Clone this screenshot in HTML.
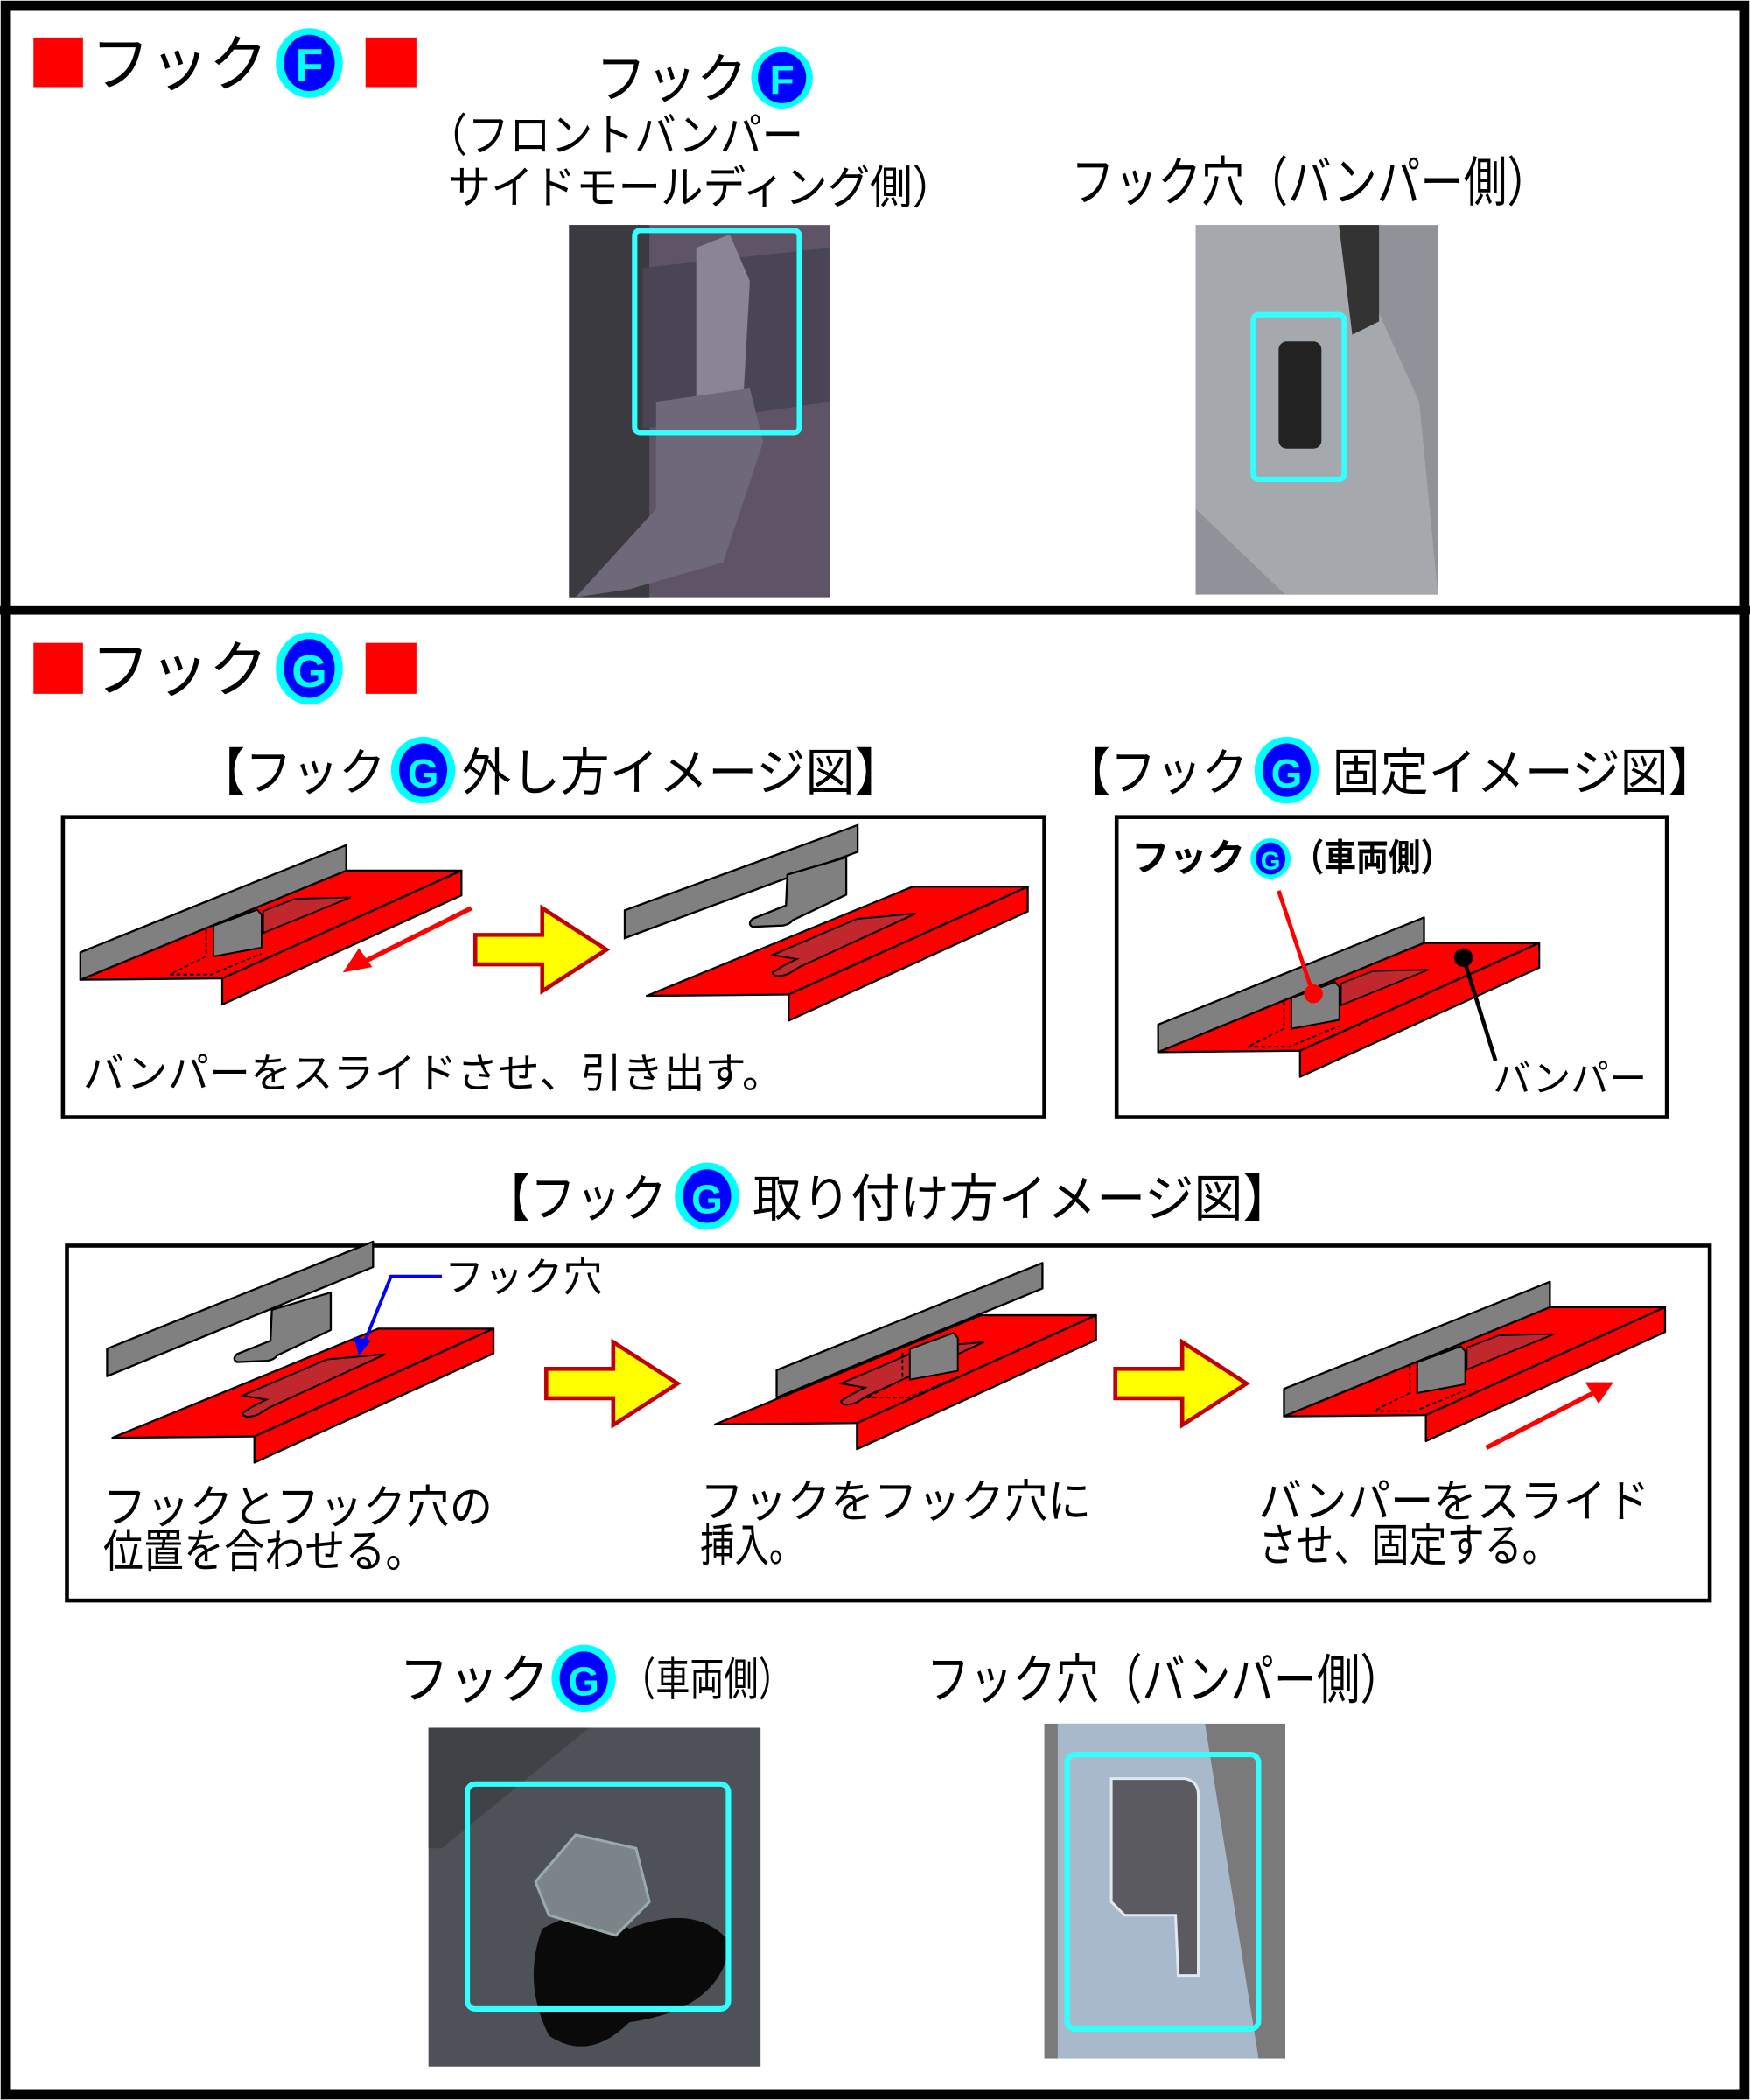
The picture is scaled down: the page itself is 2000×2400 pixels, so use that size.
<!DOCTYPE html>
<html><head><meta charset="utf-8"><style>
html,body{margin:0;padding:0;background:#fff}
svg{display:block}
text{font-family:"Liberation Sans","Noto Sans CJK JP",sans-serif}
</style></head><body>
<svg width="2000" height="2400" viewBox="0 0 1307 1568" preserveAspectRatio="none" xmlns="http://www.w3.org/2000/svg">
<defs>
<g id="wall"><polygon points="60,711 258.6,631 258.6,650 60,731.5" fill="#808080" stroke="#000" stroke-width="1.5" stroke-linejoin="round"/></g>
<g id="plate">
<polygon points="60,731.5 258.6,650 344.6,650 166,730.5" fill="#f00" stroke="#000" stroke-width="1.5" stroke-linejoin="round"/>
<polygon points="166,730.5 344.6,650 344.6,668.5 166,750" fill="#f00" stroke="#000" stroke-width="1.5" stroke-linejoin="round"/>
</g>
<g id="holeA"><polygon points="196.5,680.3 220.4,671 261.9,670 196.5,696.6" fill="#c0282d" stroke="#000" stroke-width="1.2"/></g>
<g id="hookdown">
<polygon points="159.5,691.2 192.1,679.2 195.4,683 195.4,707.5 159.5,714.1" fill="#808080" stroke="#000" stroke-width="1.3"/>
<polyline points="154,694 154,714 127,727.5 158,727.5 195.4,712" fill="none" stroke="#000" stroke-width="1.2" stroke-dasharray="3,2"/>
</g>
<g id="hookup"><path d="M588,653 L632,640 L632,668 L592,687 Q590,690 585,691 L562,692 Q558,690 562,686 L587,676 Z" fill="#808080" stroke="#000" stroke-width="1.5" stroke-linejoin="round"/></g>
<g id="slot"><path d="M577,713 L640,686 L684,682 L597,722 L589,727 Q578,731 577,726 L585,721 L595,716 Z" fill="#c0282d" stroke="#000" stroke-width="1.3"/></g>
<g id="yarrow"><polygon points="0,20 50,20 50,0 98,31 50,62 50,42 0,42" fill="#ff0" stroke="#c00000" stroke-width="3"/></g>
</defs>
<rect x="0" y="0" width="1307" height="1568" fill="#fff"/>
<rect x="4" y="4" width="1299" height="1560" fill="none" stroke="#000" stroke-width="7"/>
<rect x="0" y="452" width="1307" height="7" fill="#000"/>

<!-- Section F -->
<rect x="25" y="28" width="37" height="37" fill="#f00"/>
<text x="68" y="64" font-size="46" textLength="132" lengthAdjust="spacingAndGlyphs">フック</text>
<ellipse cx="231" cy="47" rx="25" ry="26" fill="#0ff"/><ellipse cx="231" cy="47" rx="19" ry="21" fill="#00f"/>
<text x="231" y="60" font-size="34" font-weight="bold" fill="#0ff" text-anchor="middle">F</text>
<rect x="273" y="28" width="38" height="37" fill="#f00"/>

<text x="445" y="73" font-size="40" textLength="113" lengthAdjust="spacingAndGlyphs">フック</text>
<ellipse cx="584" cy="58" rx="23" ry="23" fill="#0ff"/><ellipse cx="584" cy="58" rx="18" ry="19" fill="#00f"/>
<text x="584" y="70" font-size="30" font-weight="bold" fill="#0ff" text-anchor="middle">F</text>
<text x="318" y="113" font-size="34" textLength="282" lengthAdjust="spacingAndGlyphs">（フロントバンパー</text>
<text x="335" y="152" font-size="34" textLength="378" lengthAdjust="spacingAndGlyphs">サイドモールディング側）</text>
<text x="800" y="150" font-size="40" textLength="358" lengthAdjust="spacingAndGlyphs">フック穴（バンパー側）</text>

<rect x="425" y="168" width="195" height="278" fill="#5e5466"/>
<rect x="425" y="168" width="60" height="278" fill="#3a3a40"/>
<polygon points="480,200 620,185 620,300 480,320" fill="#4a4555"/>
<polygon points="520,185 545,175 560,210 555,300 520,300" fill="#8a8494"/>
<polygon points="490,300 560,290 570,330 540,420 470,440 430,446 490,380" fill="#6e6878"/>
<rect x="474" y="172" width="123" height="151" rx="4" fill="none" stroke="#33ffff" stroke-width="4"/>

<rect x="893" y="168" width="181" height="276" fill="#8f9399"/>
<polygon points="893,168 1000,168 1060,300 1074,444 960,444 893,380" fill="#a5a9ae"/>
<polygon points="1000,168 1030,168 1030,240 1010,250" fill="#333"/>
<rect x="955" y="255" width="32" height="80" rx="6" fill="#222"/>
<rect x="936" y="235" width="68" height="123" rx="4" fill="none" stroke="#33ffff" stroke-width="4"/>

<!-- Section G -->
<rect x="25" y="480" width="37" height="38" fill="#f00"/>
<text x="68" y="516" font-size="46" textLength="132" lengthAdjust="spacingAndGlyphs">フック</text>
<ellipse cx="231" cy="499" rx="25" ry="27" fill="#0ff"/><ellipse cx="231" cy="499" rx="19" ry="22" fill="#00f"/>
<text x="231" y="513" font-size="34" font-weight="bold" fill="#0ff" text-anchor="middle">G</text>
<rect x="273" y="480" width="38" height="38" fill="#f00"/>

<text x="148" y="590" font-size="38" textLength="140" lengthAdjust="spacingAndGlyphs">【フック</text>
<ellipse cx="316" cy="575" rx="24" ry="25" fill="#0ff"/><ellipse cx="316" cy="575" rx="18" ry="20" fill="#00f"/>
<text x="316" y="588" font-size="30" font-weight="bold" fill="#0ff" text-anchor="middle">G</text>
<text x="345" y="590" font-size="38" textLength="330" lengthAdjust="spacingAndGlyphs">外し方イメージ図】</text>

<text x="795" y="590" font-size="38" textLength="137" lengthAdjust="spacingAndGlyphs">【フック</text>
<ellipse cx="961" cy="575" rx="24" ry="25" fill="#0ff"/><ellipse cx="961" cy="575" rx="18" ry="20" fill="#00f"/>
<text x="961" y="588" font-size="30" font-weight="bold" fill="#0ff" text-anchor="middle">G</text>
<text x="995" y="590" font-size="38" textLength="287" lengthAdjust="spacingAndGlyphs">固定イメージ図】</text>

<rect x="47" y="610" width="733" height="224" fill="none" stroke="#000" stroke-width="3"/>
<use href="#plate"/><use href="#holeA"/><use href="#wall"/><use href="#hookdown"/>
<line x1="352" y1="678" x2="272" y2="718" stroke="#f00" stroke-width="3.5"/>
<polygon points="256,726 268,708 278,722" fill="#f00"/>
<use href="#yarrow" transform="translate(355,678)"/>
<polygon points="466.6,679.7 640.5,616 640.5,636 466.6,700.4" fill="#808080" stroke="#000" stroke-width="1.5"/>
<g transform="translate(423,12)"><use href="#plate"/></g>
<use href="#slot"/>
<use href="#hookup"/>
<text x="62" y="812" font-size="31" textLength="523" lengthAdjust="spacingAndGlyphs">バンパーをスライドさせ、引き出す。</text>

<rect x="834" y="610" width="411" height="224" fill="none" stroke="#000" stroke-width="3"/>
<text x="845" y="650" font-size="28" font-weight="bold" textLength="85" lengthAdjust="spacingAndGlyphs">フック</text>
<ellipse cx="949" cy="641" rx="15" ry="15" fill="#0ff"/><ellipse cx="949" cy="641" rx="11" ry="12" fill="#00f"/>
<text x="949" y="649" font-size="19" font-weight="bold" fill="#0ff" text-anchor="middle">G</text>
<text x="965" y="650" font-size="28" font-weight="bold" textLength="120" lengthAdjust="spacingAndGlyphs">（車両側）</text>
<g transform="translate(805,54)"><use href="#plate"/><use href="#holeA"/><use href="#wall"/><use href="#hookdown"/></g>
<line x1="955" y1="665" x2="980" y2="740" stroke="#f00" stroke-width="3"/>
<circle cx="981" cy="742" r="7" fill="#f00"/>
<line x1="1093" y1="715" x2="1117" y2="792" stroke="#000" stroke-width="3"/>
<circle cx="1093" cy="715" r="7" fill="#000"/>
<text x="1115" y="815" font-size="28" textLength="115" lengthAdjust="spacingAndGlyphs">バンパー</text>

<text x="362" y="908" font-size="38" textLength="136" lengthAdjust="spacingAndGlyphs">【フック</text>
<ellipse cx="528" cy="893" rx="24" ry="25" fill="#0ff"/><ellipse cx="528" cy="893" rx="18" ry="20" fill="#00f"/>
<text x="528" y="906" font-size="30" font-weight="bold" fill="#0ff" text-anchor="middle">G</text>
<text x="562" y="908" font-size="38" textLength="403" lengthAdjust="spacingAndGlyphs">取り付け方イメージ図】</text>

<rect x="50" y="930" width="1227" height="265" fill="none" stroke="#000" stroke-width="3"/>
<!-- diag 1 -->
<g transform="translate(20,296)"><use href="#wall"/></g>
<g transform="translate(-385,325)"><use href="#hookup"/></g>
<g transform="translate(24,342)"><use href="#plate"/></g>
<g transform="translate(-396,329)"><use href="#slot"/></g>
<polyline points="330,953 292,953 271,1005" fill="none" stroke="#00f" stroke-width="2.5"/>
<polygon points="268,1012 264,998 277,1001" fill="#00f"/>
<text x="332" y="964" font-size="30" textLength="118" lengthAdjust="spacingAndGlyphs">フック穴</text>
<use href="#yarrow" transform="translate(408,1002)"/>
<!-- diag 2 -->
<g transform="translate(474,332)"><use href="#plate"/></g>
<g transform="translate(51,320)"><use href="#slot"/></g>
<g transform="translate(520,312)"><use href="#wall"/></g>
<g transform="translate(520,316)"><use href="#hookdown"/></g>
<use href="#yarrow" transform="translate(833,1002)"/>
<!-- diag 3 -->
<g transform="translate(899,326)"><use href="#plate"/><use href="#holeA"/><use href="#wall"/><use href="#hookdown"/></g>
<line x1="1110" y1="1081" x2="1190" y2="1040" stroke="#f00" stroke-width="3.5"/>
<polygon points="1205,1032 1184,1032 1194,1048" fill="#f00"/>

<text x="77" y="1137" font-size="34" textLength="291" lengthAdjust="spacingAndGlyphs">フックとフック穴の</text>
<text x="77" y="1170" font-size="34" textLength="241" lengthAdjust="spacingAndGlyphs">位置を合わせる。</text>
<text x="523" y="1133" font-size="34" textLength="292" lengthAdjust="spacingAndGlyphs">フックをフック穴に</text>
<text x="523" y="1166" font-size="34" textLength="77" lengthAdjust="spacingAndGlyphs">挿入。</text>
<text x="940" y="1133" font-size="34" textLength="292" lengthAdjust="spacingAndGlyphs">バンパーをスライド</text>
<text x="940" y="1166" font-size="34" textLength="225" lengthAdjust="spacingAndGlyphs">させ、固定する。</text>

<text x="298" y="1268" font-size="40" textLength="112" lengthAdjust="spacingAndGlyphs">フック</text>
<ellipse cx="436" cy="1253" rx="24" ry="25" fill="#0ff"/><ellipse cx="436" cy="1253" rx="18" ry="20" fill="#00f"/>
<text x="436" y="1266" font-size="30" font-weight="bold" fill="#0ff" text-anchor="middle">G</text>
<text x="464" y="1266" font-size="34" textLength="128" lengthAdjust="spacingAndGlyphs">（車両側）</text>
<text x="692" y="1268" font-size="40" textLength="356" lengthAdjust="spacingAndGlyphs">フック穴（バンパー側）</text>

<rect x="320" y="1290" width="248" height="253" fill="#4e5258"/>
<polygon points="320,1290 440,1290 330,1380 320,1380" fill="#3f4247"/>
<path d="M405,1440 Q440,1420 470,1440 Q520,1420 545,1450 Q540,1500 470,1510 Q440,1540 410,1520 Q390,1480 405,1440Z" fill="#0a0a0a"/>
<polygon points="400,1405 430,1370 475,1380 485,1420 460,1445 410,1430" fill="#7d8489" stroke="#9aa" stroke-width="2"/>
<rect x="349" y="1332" width="195" height="168" rx="6" fill="none" stroke="#33ffff" stroke-width="4"/>

<rect x="780" y="1287" width="180" height="250" fill="#7a7a7a"/>
<polygon points="790,1287 900,1287 940,1537 790,1537" fill="#a9b9cc"/>
<path d="M830,1328 L885,1328 Q895,1330 895,1340 L895,1475 L880,1475 L878,1430 L840,1430 L830,1420Z" fill="#5a5a60" stroke="#e0e8f0" stroke-width="2"/>
<rect x="797" y="1310" width="143" height="205" rx="6" fill="none" stroke="#33ffff" stroke-width="4"/>
</svg>
</body></html>
